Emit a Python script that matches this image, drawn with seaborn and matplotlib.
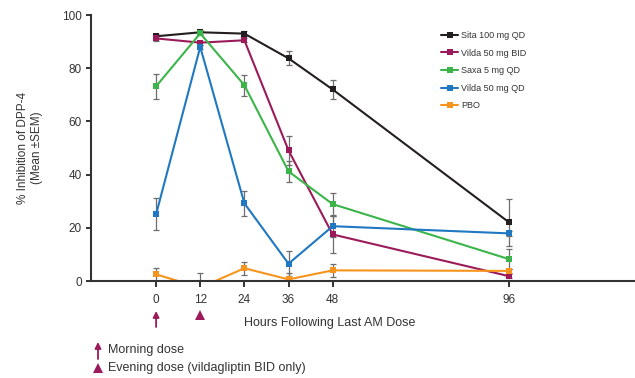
import pandas as pd
import seaborn as sns
import matplotlib.pyplot as plt
from matplotlib.lines import Line2D
from matplotlib.patches import FancyArrowPatch
from matplotlib.transforms import blended_transform_factory

# Dados (horas após a última dose da manhã)
horas = [0, 12, 24, 36, 48, 96]
grupos = ['Sita 100 mg QD', 'Vilda 50 mg BID', 'Saxa 5 mg QD', 'Vilda 50 mg QD', 'PBO']

sita = [92.0, 93.5, 93.0, 83.7, 72.0, 22.0]
vilda_bid = [91.2, 89.6, 90.5, 49.1, 17.5, 1.8]
saxa = [73.2, 93.1, 73.6, 41.2, 28.9, 8.2]
vilda_qd = [25.1, 88.0, 29.2, 6.5, 20.6, 17.9]
pbo = [2.5, -2.5, 4.8, 0.6, 4.0, 3.8]

sem_sita = [0.8, 0.8, 0.8, 2.6, 3.6, 9.0]
sem_vilda_bid = [0.8, 0.8, 0.8, 5.5, 7.0, 0.8]
sem_saxa = [4.7, 0.8, 4.0, 4.0, 4.0, 3.7]
sem_vilda_qd = [6.0, 0.8, 4.6, 4.8, 4.0, 0.8]
sem_pbo = [2.4, 5.4, 2.4, 2.5, 2.5, 0.8]

cores = ['#231f20', '#9b1b5a', '#3bb54a', '#1f78c1', '#f7941d']
roxo = '#9b1b5a'

valores = [sita, vilda_bid, saxa, vilda_qd, pbo]
erros = [sem_sita, sem_vilda_bid, sem_saxa, sem_vilda_qd, sem_pbo]

linhas = []
for g, v, e in zip(grupos, valores, erros):
    for h, y, s in zip(horas, v, e):
        linhas.append({'hora': h, 'inibicao': y, 'sem': s, 'grupo': g})
df = pd.DataFrame(linhas)
paleta = dict(zip(grupos, cores))

sns.set_style('ticks')
plt.rcParams['font.family'] = ['Liberation Sans', 'DejaVu Sans']
cinza = '#333333'

fig = plt.figure(figsize=(6.35, 3.78), dpi=100)
ax = fig.add_axes([91 / 635, 1 - 281 / 378, 1 - 91 / 635, 266 / 378])

# barras de erro (SEM)
for g in grupos:
    d = df[df['grupo'] == g]
    ax.errorbar(d['hora'], d['inibicao'], yerr=d['sem'], fmt='none',
                ecolor='#6d6d6d', elinewidth=0.9, capsize=2.2, capthick=0.9, zorder=1.5)

sns.lineplot(data=df, x='hora', y='inibicao', hue='grupo', hue_order=grupos,
             palette=paleta, marker='s', markersize=4.5, markeredgewidth=0,
             linewidth=1.5, errorbar=None, sort=False, legend=False, ax=ax, zorder=2)

ax.set_xlim(-17.7, 130.2)
ax.set_ylim(0, 100)
ax.set_xticks(horas)
ax.set_yticks(range(0, 101, 20))
ax.set_xlabel('')
ax.set_ylabel('% Inhibition of DPP-4\n(Mean \u00b1SEM)', fontsize=8.5, color=cinza,
              labelpad=14, linespacing=1.15)
ax.tick_params(axis='y', length=3.6, width=1.4, pad=3, labelsize=8.5, colors=cinza)
ax.tick_params(axis='x', length=4.2, width=1.4, pad=5, labelsize=8.5, colors=cinza)
for lado in ['left', 'bottom']:
    ax.spines[lado].set_linewidth(1.5)
    ax.spines[lado].set_color(cinza)
sns.despine(ax=ax)

fig.text(330 / 635, 1 - 323 / 378, 'Hours Following Last AM Dose', ha='center', va='center',
         fontsize=9, color=cinza)

# legenda das séries
handles = [Line2D([], [], color=c, lw=1.5, marker='s', markersize=4.5, markeredgewidth=0)
           for c in cores]
fig.legend(handles, grupos, loc='upper left', bbox_to_anchor=(441 / 635, 1 - 31 / 378),
           frameon=False, fontsize=6.5, handlelength=1.9, handletextpad=0.3,
           labelspacing=0.95, borderpad=0, borderaxespad=0, labelcolor=cinza)

# marcadores de dose abaixo do eixo: seta no 0 h, triângulo no 12 h
trans = blended_transform_factory(ax.transData, fig.transFigure)
ax.add_patch(FancyArrowPatch((0, 1 - 327 / 378), (0, 1 - 311 / 378), transform=trans,
                             arrowstyle='-|>', color=roxo, lw=1.3, mutation_scale=9,
                             shrinkA=0, shrinkB=0, clip_on=False))
ax.plot([12], [1 - 315 / 378], marker='^', color=roxo, markersize=6.5,
        markeredgewidth=0, transform=trans, clip_on=False)

# notas explicativas
fig.add_artist(Line2D([98 / 635], [1 - 367.5 / 378], marker='^', color=roxo,
                      markersize=6.5, markeredgewidth=0, transform=fig.transFigure))
fig.add_artist(FancyArrowPatch(
    (98 / 635, 1 - 359 / 378), (98 / 635, 1 - 342 / 378), transform=fig.transFigure,
    arrowstyle='-|>', color=roxo, lw=1.3, mutation_scale=9, shrinkA=0, shrinkB=0))
fig.text(108 / 635, 1 - 350 / 378, 'Morning dose', ha='left', va='center', fontsize=9, color=cinza)
fig.text(108 / 635, 1 - 368.5 / 378, 'Evening dose (vildagliptin BID only)', ha='left',
         va='center', fontsize=9, color=cinza)

plt.savefig('out.png', dpi=100)
